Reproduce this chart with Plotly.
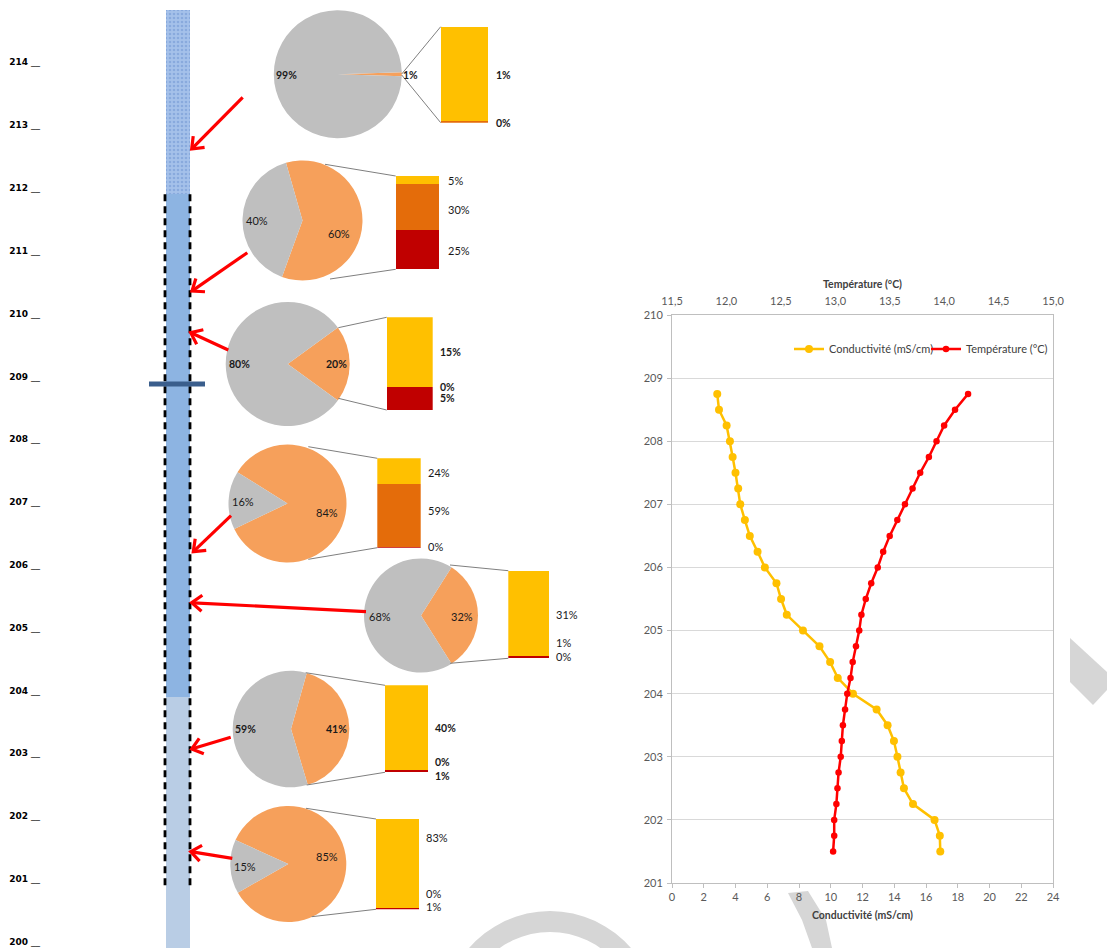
import math
import plotly.graph_objects as go

W, H = 1107, 948

# ------------------------------------------------------------------ data
depth_ticks = list(range(200, 215))

column_tops = [214.83, 211.9, 203.9]
column_bottoms = [211.9, 203.9, 199.5]
dashed_top = 211.9
dashed_bottom = 200.9
marker_depth = 208.88

pie_orange = [1, 60, 20, 84, 32, 41, 85]
pie_gray = [99, 40, 80, 16, 68, 59, 15]
bar_yellow = [0.98, 5, 15, 24, 31.2, 40, 83.5]
bar_dkorange = [0.02, 30, 0, 59, 0, 0, 0]
bar_red = [0, 25, 5, 0.3, 0.8, 1, 1]
bar_labels = [["1%", "0%"], ["5%", "30%", "25%"], ["15%", "0%", "5%"],
              ["24%", "59%", "0%"], ["31%", "1%", "0%"], ["40%", "0%", "1%"],
              ["83%", "0%", "1%"]]

profile_depth = [208.75, 208.5, 208.25, 208.0, 207.75, 207.5, 207.25, 207.0,
                 206.75, 206.5, 206.25, 206.0, 205.75, 205.5, 205.25, 205.0,
                 204.75, 204.5, 204.25, 204.0, 203.75, 203.5, 203.25, 203.0,
                 202.75, 202.5, 202.25, 202.0, 201.75, 201.5]
conductivity = [2.85, 2.96, 3.44, 3.65, 3.82, 4.0, 4.17, 4.3,
                4.59, 4.9, 5.39, 5.85, 6.58, 6.87, 7.23, 8.25,
                9.29, 9.96, 10.44, 11.4, 12.89, 13.58, 13.98, 14.2,
                14.4, 14.61, 15.18, 16.54, 16.87, 16.9]
temperature = [14.22, 14.10, 14.00, 13.93, 13.86, 13.78, 13.71, 13.64,
               13.57, 13.50, 13.44, 13.39, 13.33, 13.28, 13.24, 13.22,
               13.19, 13.16, 13.14, 13.11, 13.09, 13.07, 13.06, 13.05,
               13.03, 13.02, 13.01, 12.99, 12.99, 12.98]

cond_ticks = list(range(0, 25, 2))
temp_ticks = [11.5, 12.0, 12.5, 13.0, 13.5, 14.0, 14.5, 15.0]
depth_profile_ticks = list(range(201, 211))

# ------------------------------------------------------------------ styling / layout
GRAY = "#BFBFBF"
ORANGE = "#F6A05B"
YELLOW = "#FFC000"
DKORANGE = "#E46C0A"
RED = "#C00000"

def X(px):
    return px / W

def Y(py):
    return 1 - py / H

# pies: centre (px), radius, rotation (start bearing of orange slice)
pie_geom = [((337.8, 74.2), 64, 88.2), ((302.5, 220.5), 60, -16),
            ((287.7, 364), 62, 54), ((287.5, 503.5), 59, 302),
            ((421, 615.5), 57, 32.4), ((291, 729), 58.3, 15.7),
            ((288.3, 864), 58, 294.4)]
bar_rects = [(440.7, 26.7, 488.3, 122.7), (395.7, 176, 439.3, 269.3),
             (386.7, 317.3, 432.7, 410), (377.3, 458.3, 420.7, 547.7),
             (508.3, 570.7, 549, 658.3), (385, 685.3, 428.3, 772.3),
             (376, 819, 419.3, 909.3)]
connectors = [((401.7, 74), (401.7, 75)), ((325, 164.3), (330, 279)),
              ((338.3, 327.7), (338.3, 398.3)), ((308.3, 446.7), (308.3, 559.3)),
              ((450, 565), (450, 663.3)), ((305.7, 672.7), (306.7, 785)),
              ((306, 808.3), (311.7, 916.7))]
gray_lbl_pos = [(286.7, 75), (257.3, 220.7), (239, 364.3), (243.3, 501),
                (380, 616), (245.3, 729.3), (245, 866)]
orange_lbl_pos = [(410.7, 75), (339.3, 233.3), (336.7, 364.3), (326.7, 512.7),
                  (461.7, 616), (336, 729.3), (326.7, 856)]
bar_lbl_x = [494, 446, 437.7, 425.7, 554, 432.7, 424]
bar_lbl_y = [[75, 122.7], [180.7, 210, 250], [352.3, 387.3, 398.3],
             [472.7, 510, 546.7], [614.3, 642.7, 656.7], [728.3, 761.7, 775.7],
             [837.3, 893.3, 906]]
bold_flags = [True, False, True, False, False, True, False]

arrows = [((242.7, 97.3), (191.7, 149)), ((247.3, 252.7), (192, 291)),
          ((228.3, 350), (190.7, 332.7)), ((231, 515.7), (193.3, 551.7)),
          ((366, 611.7), (191.7, 602.7)), ((230.7, 737.3), (191.7, 749)),
          ((232.3, 858.3), (190.7, 851.7))]

fig = go.Figure()

# ---- geological column (bars on depth axis)
col_styles = [dict(color="#A5C1EA", pattern=dict(shape=".", fgcolor="#6E93CF",
                                                 bgcolor="#A5C1EA", size=4, solidity=0.35)),
              dict(color="#8DB4E2"), dict(color="#B9CDE5")]
for top, bot, st in zip(column_tops, column_bottoms, col_styles):
    fig.add_trace(go.Bar(x=[178], y=[top - bot], base=[bot], width=[24],
                         marker=dict(line=dict(width=0), **st),
                         xaxis="x", yaxis="y", showlegend=False, hoverinfo="skip"))

# ---- pies + bar-of-pie
font_reg = "Lato, 'Open Sans', sans-serif"
annotations = []
shapes = []
for i in range(7):
    (cx, cy), r, rot = pie_geom[i]
    fig.add_trace(go.Pie(values=[pie_orange[i], pie_gray[i]], labels=["o", "g"],
                         sort=False, direction="clockwise", rotation=rot,
                         marker=dict(colors=[ORANGE, GRAY], line=dict(width=0)),
                         textinfo="none", hoverinfo="skip", showlegend=False,
                         domain=dict(x=[X(cx - r), X(cx + r)], y=[Y(cy + r), Y(cy - r)])))
    k = i + 4
    x0, y0, x1, y1 = bar_rects[i]
    total = bar_yellow[i] + bar_dkorange[i] + bar_red[i]
    for val, col in ((bar_red[i], RED), (bar_dkorange[i], DKORANGE), (bar_yellow[i], YELLOW)):
        fig.add_trace(go.Bar(x=[0], y=[val], width=[1], marker=dict(color=col, line=dict(width=0)),
                             xaxis=f"x{k}", yaxis=f"y{k}", showlegend=False, hoverinfo="skip"))
    fig.layout[f"xaxis{k}"] = dict(domain=[X(x0), X(x1)], range=[-0.5, 0.5], visible=False,
                                   anchor=f"y{k}", fixedrange=True)
    fig.layout[f"yaxis{k}"] = dict(domain=[Y(y1), Y(y0)], range=[0, total], visible=False,
                                   anchor=f"x{k}", fixedrange=True)
    # connector lines
    (ta, tb) = connectors[i]
    shapes.append(dict(type="line", xref="paper", yref="paper", x0=X(ta[0]), y0=Y(ta[1]),
                       x1=X(x0), y1=Y(y0), line=dict(color="#7F7F7F", width=1)))
    shapes.append(dict(type="line", xref="paper", yref="paper", x0=X(tb[0]), y0=Y(tb[1]),
                       x1=X(x0), y1=Y(y1), line=dict(color="#7F7F7F", width=1)))
    b = bold_flags[i]
    fnt = dict(family=font_reg, size=10.5 if b else 11, color="#1a1a1a")

    def txt(s):
        return f"<b>{s}</b>" if b else s
    annotations.append(dict(x=X(gray_lbl_pos[i][0]), y=Y(gray_lbl_pos[i][1]), xref="paper",
                            yref="paper", xanchor="center", yanchor="middle",
                            text=txt(f"{pie_gray[i]}%"), showarrow=False, font=fnt))
    annotations.append(dict(x=X(orange_lbl_pos[i][0]), y=Y(orange_lbl_pos[i][1]), xref="paper",
                            yref="paper", xanchor="center", yanchor="middle",
                            text=txt(f"{pie_orange[i]}%"), showarrow=False, font=fnt))
    for lab, ly in zip(bar_labels[i], bar_lbl_y[i]):
        annotations.append(dict(x=X(bar_lbl_x[i]), y=Y(ly), xref="paper", yref="paper",
                                xanchor="left", yanchor="middle", text=txt(lab),
                                showarrow=False, font=fnt))

# ---- profile chart
fig.add_trace(go.Scatter(x=conductivity, y=profile_depth, mode="lines+markers",
                         name="Conductivité (mS/cm)", xaxis="x2", yaxis="y2", legend="legend",
                         line=dict(color=YELLOW, width=2.5), marker=dict(size=8, color=YELLOW)))
fig.add_trace(go.Scatter(x=temperature, y=profile_depth, mode="lines+markers",
                         name="Température (°C)", xaxis="x3", yaxis="y2", legend="legend2",
                         line=dict(color="#FF0000", width=2.5), marker=dict(size=6.5, color="#FF0000")))

# ---- column decorations
for xx in (165, 190):
    shapes.append(dict(type="line", xref="x", yref="y", x0=xx, x1=xx, y0=dashed_top,
                       y1=dashed_bottom, line=dict(color="black", width=2.8, dash="7px,5px")))
shapes.append(dict(type="line", xref="x", yref="y", x0=149, x1=205, y0=marker_depth,
                   y1=marker_depth, line=dict(color="#3A5E8C", width=5)))

# ---- arrows
for (tx, ty), (hx, hy) in arrows:
    dx, dy = hx - tx, hy - ty
    L = math.hypot(dx, dy)
    ux, uy = dx / L, dy / L
    pts = []
    for a in (math.radians(38), -math.radians(38)):
        rx = ux * math.cos(a) - uy * math.sin(a)
        ry = ux * math.sin(a) + uy * math.cos(a)
        pts.append((hx - 13 * rx, hy - 13 * ry))
    shapes.append(dict(type="line", xref="paper", yref="paper", x0=X(tx), y0=Y(ty),
                       x1=X(hx - ux * 1.5), y1=Y(hy - uy * 1.5),
                       line=dict(color="#FF0000", width=3.2)))
    path = (f"M {X(pts[0][0])} {Y(pts[0][1])} L {X(hx)} {Y(hy)} "
            f"L {X(pts[1][0])} {Y(pts[1][1])}")
    shapes.append(dict(type="path", xref="paper", yref="paper", path=path,
                       line=dict(color="#FF0000", width=3.2)))

# ---- watermark fragments
def poly(points):
    return "M " + " L ".join(f"{X(a)} {Y(b)}" for a, b in points) + " Z"

ring_pts = []
cxr, cyr = 550, 1028
for t in range(0, 181, 6):
    ang = math.radians(180 + t)
    ring_pts.append((cxr + 117 * math.cos(ang) * 0.95, cyr + 117 * math.sin(ang)))
for t in range(180, -1, -6):
    ang = math.radians(180 + t)
    ring_pts.append((cxr + 96 * math.cos(ang) * 0.95, cyr + 96 * math.sin(ang)))
wm = [ring_pts,
      [(788, 893), (808, 891), (826, 920), (832, 948), (812, 948), (802, 920)],
      [(1070, 638), (1107, 672), (1107, 690), (1093, 705), (1070, 682)]]
for p in wm:
    shapes.append(dict(type="path", xref="paper", yref="paper", path=poly(p),
                       fillcolor="#D6D6D6", line=dict(width=0), layer="below"))

tickfont = dict(family=font_reg, size=11, color="#595959")
titlefont = dict(family=font_reg, size=10.5, color="#404040")
legfont = dict(family=font_reg, size=11, color="#404040")

fig.update_layout(
    width=W, height=H, autosize=False,
    margin=dict(l=0, r=0, t=0, b=0, pad=0, autoexpand=False),
    paper_bgcolor="white", plot_bgcolor="rgba(0,0,0,0)",
    barmode="stack", separators=", ",
    shapes=shapes, annotations=annotations,
    xaxis=dict(domain=[0, 1], range=[0, W], visible=False, fixedrange=True, anchor="y"),
    yaxis=dict(domain=[0, 1], range=[199.899, 214.992], anchor="free", position=X(40),
               tickvals=depth_ticks, ticktext=[f"<b>{d}</b> __" for d in depth_ticks],
               tickfont=dict(family="DejaVu Sans, Verdana", size=9, color="black"),
               showgrid=False, zeroline=False, showline=False, ticks="", fixedrange=True,
               automargin=False),
    xaxis2=dict(domain=[X(672), X(1053)], range=[0, 24], anchor="y2", tickvals=cond_ticks,
                showgrid=False, zeroline=False, showline=True, linecolor="#BFBFBF",
                ticks="outside", ticklen=4, tickcolor="#BFBFBF", tickfont=tickfont,
                automargin=False,
                title=dict(text="<b>Conductivité (mS/cm)</b>", font=titlefont, standoff=9)),
    xaxis3=dict(overlaying="x2", side="top", range=[11.5, 15.0], anchor="y2",
                tickvals=temp_ticks, tickformat=".1f", showgrid=False, zeroline=False,
                showline=True, linecolor="#BFBFBF", ticks="", tickfont=tickfont,
                ticklabelstandoff=5, automargin=False,
                title=dict(text="<b>Température (°C)</b>", font=titlefont, standoff=2)),
    yaxis2=dict(domain=[Y(883), Y(315)], range=[201, 210], anchor="x2", tickvals=depth_profile_ticks,
                showgrid=True, gridcolor="#D9D9D9", gridwidth=1, zeroline=False,
                showline=True, linecolor="#BFBFBF", mirror=True, automargin=False,
                ticks="outside", ticklen=4, tickcolor="#BFBFBF", tickfont=tickfont,
                ticklabelstandoff=2),
    legend=dict(orientation="h", x=X(789), y=Y(349), xanchor="left", yanchor="middle",
                font=legfont, bgcolor="rgba(0,0,0,0)", itemwidth=30),
    legend2=dict(orientation="h", x=X(926), y=Y(349), xanchor="left", yanchor="middle",
                 font=legfont, bgcolor="rgba(0,0,0,0)", itemwidth=30),
    showlegend=True,
)

fig.write_html("out.html",
               post_script="document.body.style.margin='0';document.body.style.overflow='hidden';")
